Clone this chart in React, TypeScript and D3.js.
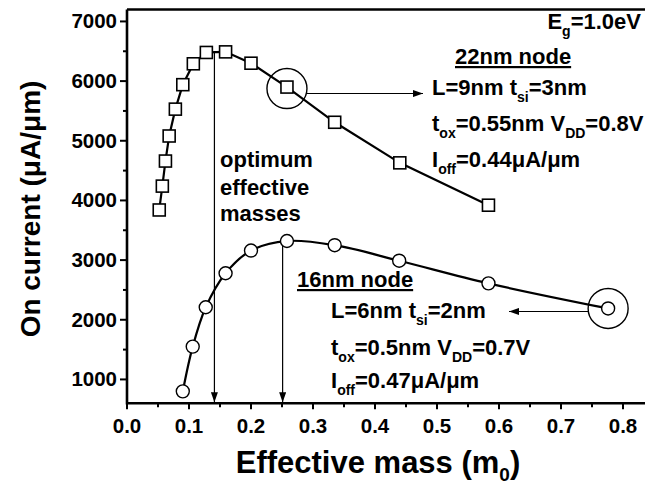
import * as d3 from "d3";

// 22nm node (squares)
const massSq = [0.052, 0.057, 0.062, 0.068, 0.078, 0.09, 0.107, 0.128, 0.159, 0.2, 0.258, 0.335, 0.44, 0.583];
const currentSq = [3840, 4240, 4660, 5080, 5530, 5940, 6290, 6480, 6490, 6300, 5900, 5310, 4630, 3920];
// 16nm node (circles)
const massCi = [0.09, 0.106, 0.127, 0.159, 0.2, 0.258, 0.335, 0.439, 0.583, 0.776];
const currentCi = [800, 1550, 2210, 2780, 3160, 3320, 3250, 2990, 2610, 2190];

const xMajor = [0, 0.1, 0.2, 0.3, 0.4, 0.5, 0.6, 0.7, 0.8];
const xMinor = [0.05, 0.15, 0.25, 0.35, 0.45, 0.55, 0.65, 0.75, 0.85];
const yMajor = [1000, 2000, 3000, 4000, 5000, 6000, 7000];
const yMinor = [1500, 2500, 3500, 4500, 5500, 6500];

// optimum masses marked by the vertical arrows
const optMass = [0.141, 0.251];
const optCurrent = [6480, 3300];

const W = 645;
const H = 491;
const FONT = "'Liberation Sans', Arial, sans-serif";

export default function App() {
  const x = d3.scaleLinear().domain([0, 0.85]).range([127, 127 + 0.85 * 620]);
  const y = d3.scaleLinear().domain([600, 7200]).range([403.3, 9.5]);
  const [x0, x1] = x.range();
  const [y0, y1] = y.range();

  const sqPts = massSq.map((m, i) => [x(m), y(currentSq[i])] as [number, number]);
  const ciPts = massCi.map((m, i) => [x(m), y(currentCi[i])] as [number, number]);
  const sqLine = d3.line().curve(d3.curveLinear)(sqPts) ?? "";
  const ciLine = d3.line().curve(d3.curveCatmullRom.alpha(0.5))(ciPts) ?? "";

  // highlighted points
  const [hx1, hy1] = sqPts[10];
  const [hx2, hy2] = ciPts[9];
  const R = 20;

  const sub = 14;
  const dy = 7;

  return (
    <div style={{ position: "absolute", left: 0, top: 0 }}>
      <svg width={W} height={H} style={{ display: "block", background: "#fff" }} fontFamily={FONT} fontWeight="bold">
        <defs>
          <marker id="ah" viewBox="0 0 10 7" refX="10" refY="3.5" markerWidth="10" markerHeight="7" markerUnits="userSpaceOnUse" orient="auto">
            <path d="M0,0 L10,3.5 L0,7 z" fill="#000" />
          </marker>
        </defs>

        {/* data lines */}
        <path d={sqLine} fill="none" stroke="#000" strokeWidth={2.2} />
        <path d={ciLine} fill="none" stroke="#000" strokeWidth={2.2} />

        {/* optimum arrows */}
        {optMass.map((m, i) => (
          <line key={i} x1={x(m)} x2={x(m)} y1={y(optCurrent[i])} y2={y0 - 1} stroke="#000" strokeWidth={1.2} markerEnd="url(#ah)" />
        ))}

        {sqPts.map(([px, py], i) => (
          <rect key={i} x={px - 6} y={py - 6} width={12} height={12} fill="#fff" stroke="#000" strokeWidth={1.6} />
        ))}
        {ciPts.map(([px, py], i) => (
          <circle key={i} cx={px} cy={py} r={6.5} fill="#fff" stroke="#000" strokeWidth={1.4} />
        ))}

        {/* highlight circles + arrows */}
        <circle cx={hx1} cy={hy1 + 1.5} r={R} fill="none" stroke="#000" strokeWidth={1.4} />
        <line x1={hx1 + Math.sqrt(R * R - 25)} x2={423} y1={hy1 + 6.5} y2={hy1 + 6.5} stroke="#000" strokeWidth={1.1} markerEnd="url(#ah)" />
        <circle cx={hx2} cy={hy2} r={R} fill="none" stroke="#000" strokeWidth={1.4} />
        <line x1={hx2 - Math.sqrt(R * R - 9)} x2={509} y1={hy2 + 3} y2={hy2 + 3} stroke="#000" strokeWidth={1.1} markerEnd="url(#ah)" />

        {/* frame */}
        <path d={`M${x0},${y1}V${y0}H${x1}`} fill="none" stroke="#000" strokeWidth={2.6} />
        <line x1={x0} x2={x1} y1={y1} y2={y1} stroke="#000" strokeWidth={2.6} />

        {/* y ticks */}
        {yMajor.map((v) => (
          <g key={v}>
            <line x1={x0 - 7} x2={x0} y1={y(v)} y2={y(v)} stroke="#000" strokeWidth={2} />
            <text x={x0 - 10} y={y(v) + 7} textAnchor="end" fontSize={20.5}>{v}</text>
          </g>
        ))}
        {yMinor.map((v) => (
          <line key={v} x1={x0 - 4} x2={x0} y1={y(v)} y2={y(v)} stroke="#000" strokeWidth={2} />
        ))}

        {/* x ticks */}
        {xMajor.map((v) => (
          <g key={v}>
            <line x1={x(v)} x2={x(v)} y1={y0} y2={y0 + 6} stroke="#000" strokeWidth={2} />
            <text x={x(v)} y={y0 + 30} textAnchor="middle" fontSize={20.5}>{d3.format(".1f")(v)}</text>
          </g>
        ))}
        {xMinor.map((v) => (
          <line key={v} x1={x(v)} x2={x(v)} y1={y0} y2={y0 + 4} stroke="#000" strokeWidth={2} />
        ))}

        {/* axis titles */}
        <text x={378} y={473} textAnchor="middle" fontSize={31}>
          Effective mass (m<tspan fontSize={19} dy={8}>0</tspan><tspan dy={-8}>)</tspan>
        </text>
        <text transform="translate(40,209) rotate(-90)" textAnchor="middle" fontSize={28}>
          On current (μA/μm)
        </text>

        {/* optimum label */}
        <g fontSize={22}>
          <text x={220} y={167}>optimum</text>
          <text x={220} y={195}>effective</text>
          <text x={220} y={221}>masses</text>
        </g>

        {/* 22nm node annotation */}
        <g fontSize={22}>
          <text x={641} y={29} textAnchor="end">
            E<tspan fontSize={sub} dy={dy}>g</tspan><tspan dy={-dy}>=1.0eV</tspan>
          </text>
          <text x={455} y={64} textDecoration="underline">22nm node</text>
          <text x={432} y={95}>
            L=9nm t<tspan fontSize={sub} dy={dy}>si</tspan><tspan dy={-dy}>=3nm</tspan>
          </text>
          <text x={432} y={131}>
            t<tspan fontSize={sub} dy={dy}>ox</tspan><tspan dy={-dy}>=0.55nm V</tspan><tspan fontSize={sub} dy={dy}>DD</tspan><tspan dy={-dy}>=0.8V</tspan>
          </text>
          <text x={432} y={167}>
            I<tspan fontSize={sub} dy={dy}>off</tspan><tspan dy={-dy}>=0.44μA/μm</tspan>
          </text>
        </g>

        {/* 16nm node annotation */}
        <g fontSize={22}>
          <text x={297} y={287} textDecoration="underline">16nm node</text>
          <text x={331} y={318}>
            L=6nm t<tspan fontSize={sub} dy={dy}>si</tspan><tspan dy={-dy}>=2nm</tspan>
          </text>
          <text x={331} y={355}>
            t<tspan fontSize={sub} dy={dy}>ox</tspan><tspan dy={-dy}>=0.5nm V</tspan><tspan fontSize={sub} dy={dy}>DD</tspan><tspan dy={-dy}>=0.7V</tspan>
          </text>
          <text x={331} y={388}>
            I<tspan fontSize={sub} dy={dy}>off</tspan><tspan dy={-dy}>=0.47μA/μm</tspan>
          </text>
        </g>
      </svg>
    </div>
  );
}
